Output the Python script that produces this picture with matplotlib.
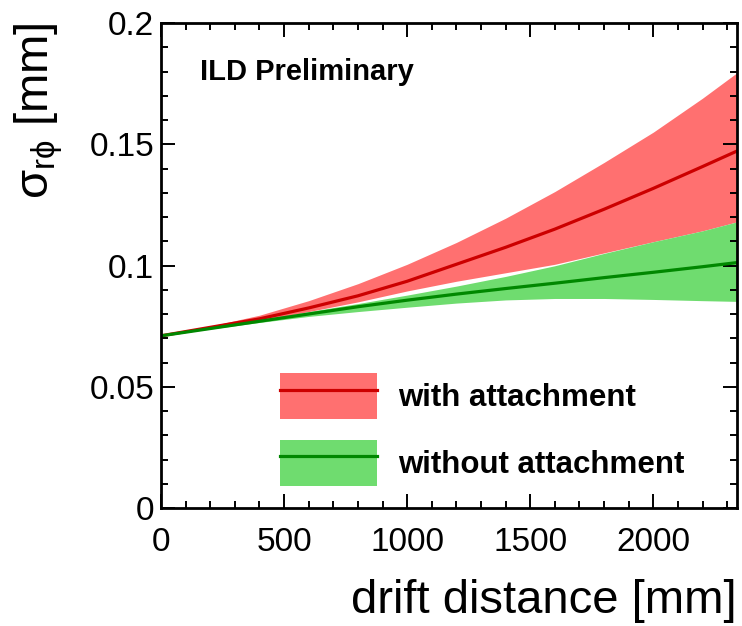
import matplotlib
matplotlib.use('Agg')
import matplotlib.pyplot as plt
from matplotlib.patches import Patch
from matplotlib.lines import Line2D
from matplotlib.ticker import MultipleLocator

plt.rcParams['font.family'] = ['Liberation Sans', 'DejaVu Sans']
plt.rcParams['mathtext.fontset'] = 'custom'
plt.rcParams['mathtext.rm'] = 'Liberation Sans'
plt.rcParams['mathtext.it'] = 'Liberation Sans'
plt.rcParams['mathtext.bf'] = 'Liberation Sans:bold'

# drift distance [mm]
drift = [0, 200, 400, 600, 800, 1000, 1200, 1400, 1600, 1800, 2000, 2200, 2340]

# with attachment
att_mid = [0.0710, 0.0745, 0.0780, 0.0825, 0.0875, 0.0935, 0.1005, 0.1075, 0.1150, 0.1232, 0.1318, 0.1408, 0.1472]
att_hi = [0.0710, 0.0750, 0.0795, 0.0855, 0.0925, 0.1005, 0.1095, 0.1195, 0.1305, 0.1425, 0.1550, 0.1690, 0.1795]
att_lo = [0.0710, 0.0740, 0.0770, 0.0810, 0.0850, 0.0895, 0.0935, 0.0970, 0.1005, 0.1052, 0.1098, 0.1143, 0.1180]

# without attachment
noatt_mid = [0.0710, 0.0740, 0.0770, 0.0800, 0.0830, 0.0857, 0.0882, 0.0905, 0.0927, 0.0950, 0.0972, 0.0995, 0.1012]
noatt_hi = [0.0710, 0.0742, 0.0775, 0.0810, 0.0843, 0.0878, 0.0915, 0.0955, 0.0999, 0.1050, 0.1098, 0.1143, 0.1180]
noatt_lo = [0.0710, 0.0738, 0.0765, 0.0790, 0.0810, 0.0828, 0.0845, 0.0858, 0.0864, 0.0864, 0.0860, 0.0855, 0.0852]

red_fill, red_line = '#ff7070', '#cc0000'
green_fill, green_line = '#6fdc6f', '#008800'

fig = plt.figure(figsize=(7.42, 6.26), dpi=100)
ax = fig.add_axes([161 / 742, 1 - 508 / 626, 576 / 742, 485 / 626])

ax.fill_between(drift, att_lo, att_hi, color=red_fill, lw=0)
ax.fill_between(drift, noatt_lo, noatt_hi, color=green_fill, lw=0)
ax.plot(drift, att_mid, color=red_line, lw=2.3)
ax.plot(drift, noatt_mid, color=green_line, lw=2.3)

ax.set_xlim(0, 2340)
ax.set_ylim(0, 0.2)
ax.xaxis.set_major_locator(MultipleLocator(500))
ax.xaxis.set_minor_locator(MultipleLocator(100))
ax.yaxis.set_major_locator(MultipleLocator(0.05))
ax.yaxis.set_minor_locator(MultipleLocator(0.01))
ax.set_yticks([0, 0.05, 0.1, 0.15, 0.2], ['0', '0.05', '0.1', '0.15', '0.2'])
ax.tick_params(which='both', direction='in', top=True, right=True, width=1.4)
ax.tick_params(which='major', length=10, labelsize=24)
ax.tick_params(which='minor', length=5)
ax.tick_params(axis='x', which='major', pad=14)
ax.tick_params(axis='y', which='major', pad=5)
for s in ax.spines.values():
    s.set_linewidth(2)

fig.text(0.993, 0.004, 'drift distance [mm]', ha='right', va='bottom', fontsize=34)
fig.text(39 / 742, 1 - 22 / 626, r'$\sigma_{r\phi}$ [mm]', rotation=90,
         ha='center', va='top', fontsize=34)
fig.text(200 / 742, 1 - 72 / 626, 'ILD Preliminary', ha='left', va='center',
         fontsize=21, fontweight='bold')

handles = [(Patch(color=red_fill, lw=0), Line2D([], [], color=red_line, lw=2.3)),
           (Patch(color=green_fill, lw=0), Line2D([], [], color=green_line, lw=2.3))]
ax.legend(handles, ['with attachment', 'without attachment'],
          loc='upper left', bbox_to_anchor=(280 / 742, 1 - 373 / 626),
          bbox_transform=fig.transFigure, frameon=False, borderpad=0,
          borderaxespad=0, handlelength=3.1, handleheight=1.9,
          labelspacing=0.66, handletextpad=0.67,
          prop={'size': 22.5, 'weight': 'bold'})

fig.savefig('out.png', dpi=100)
